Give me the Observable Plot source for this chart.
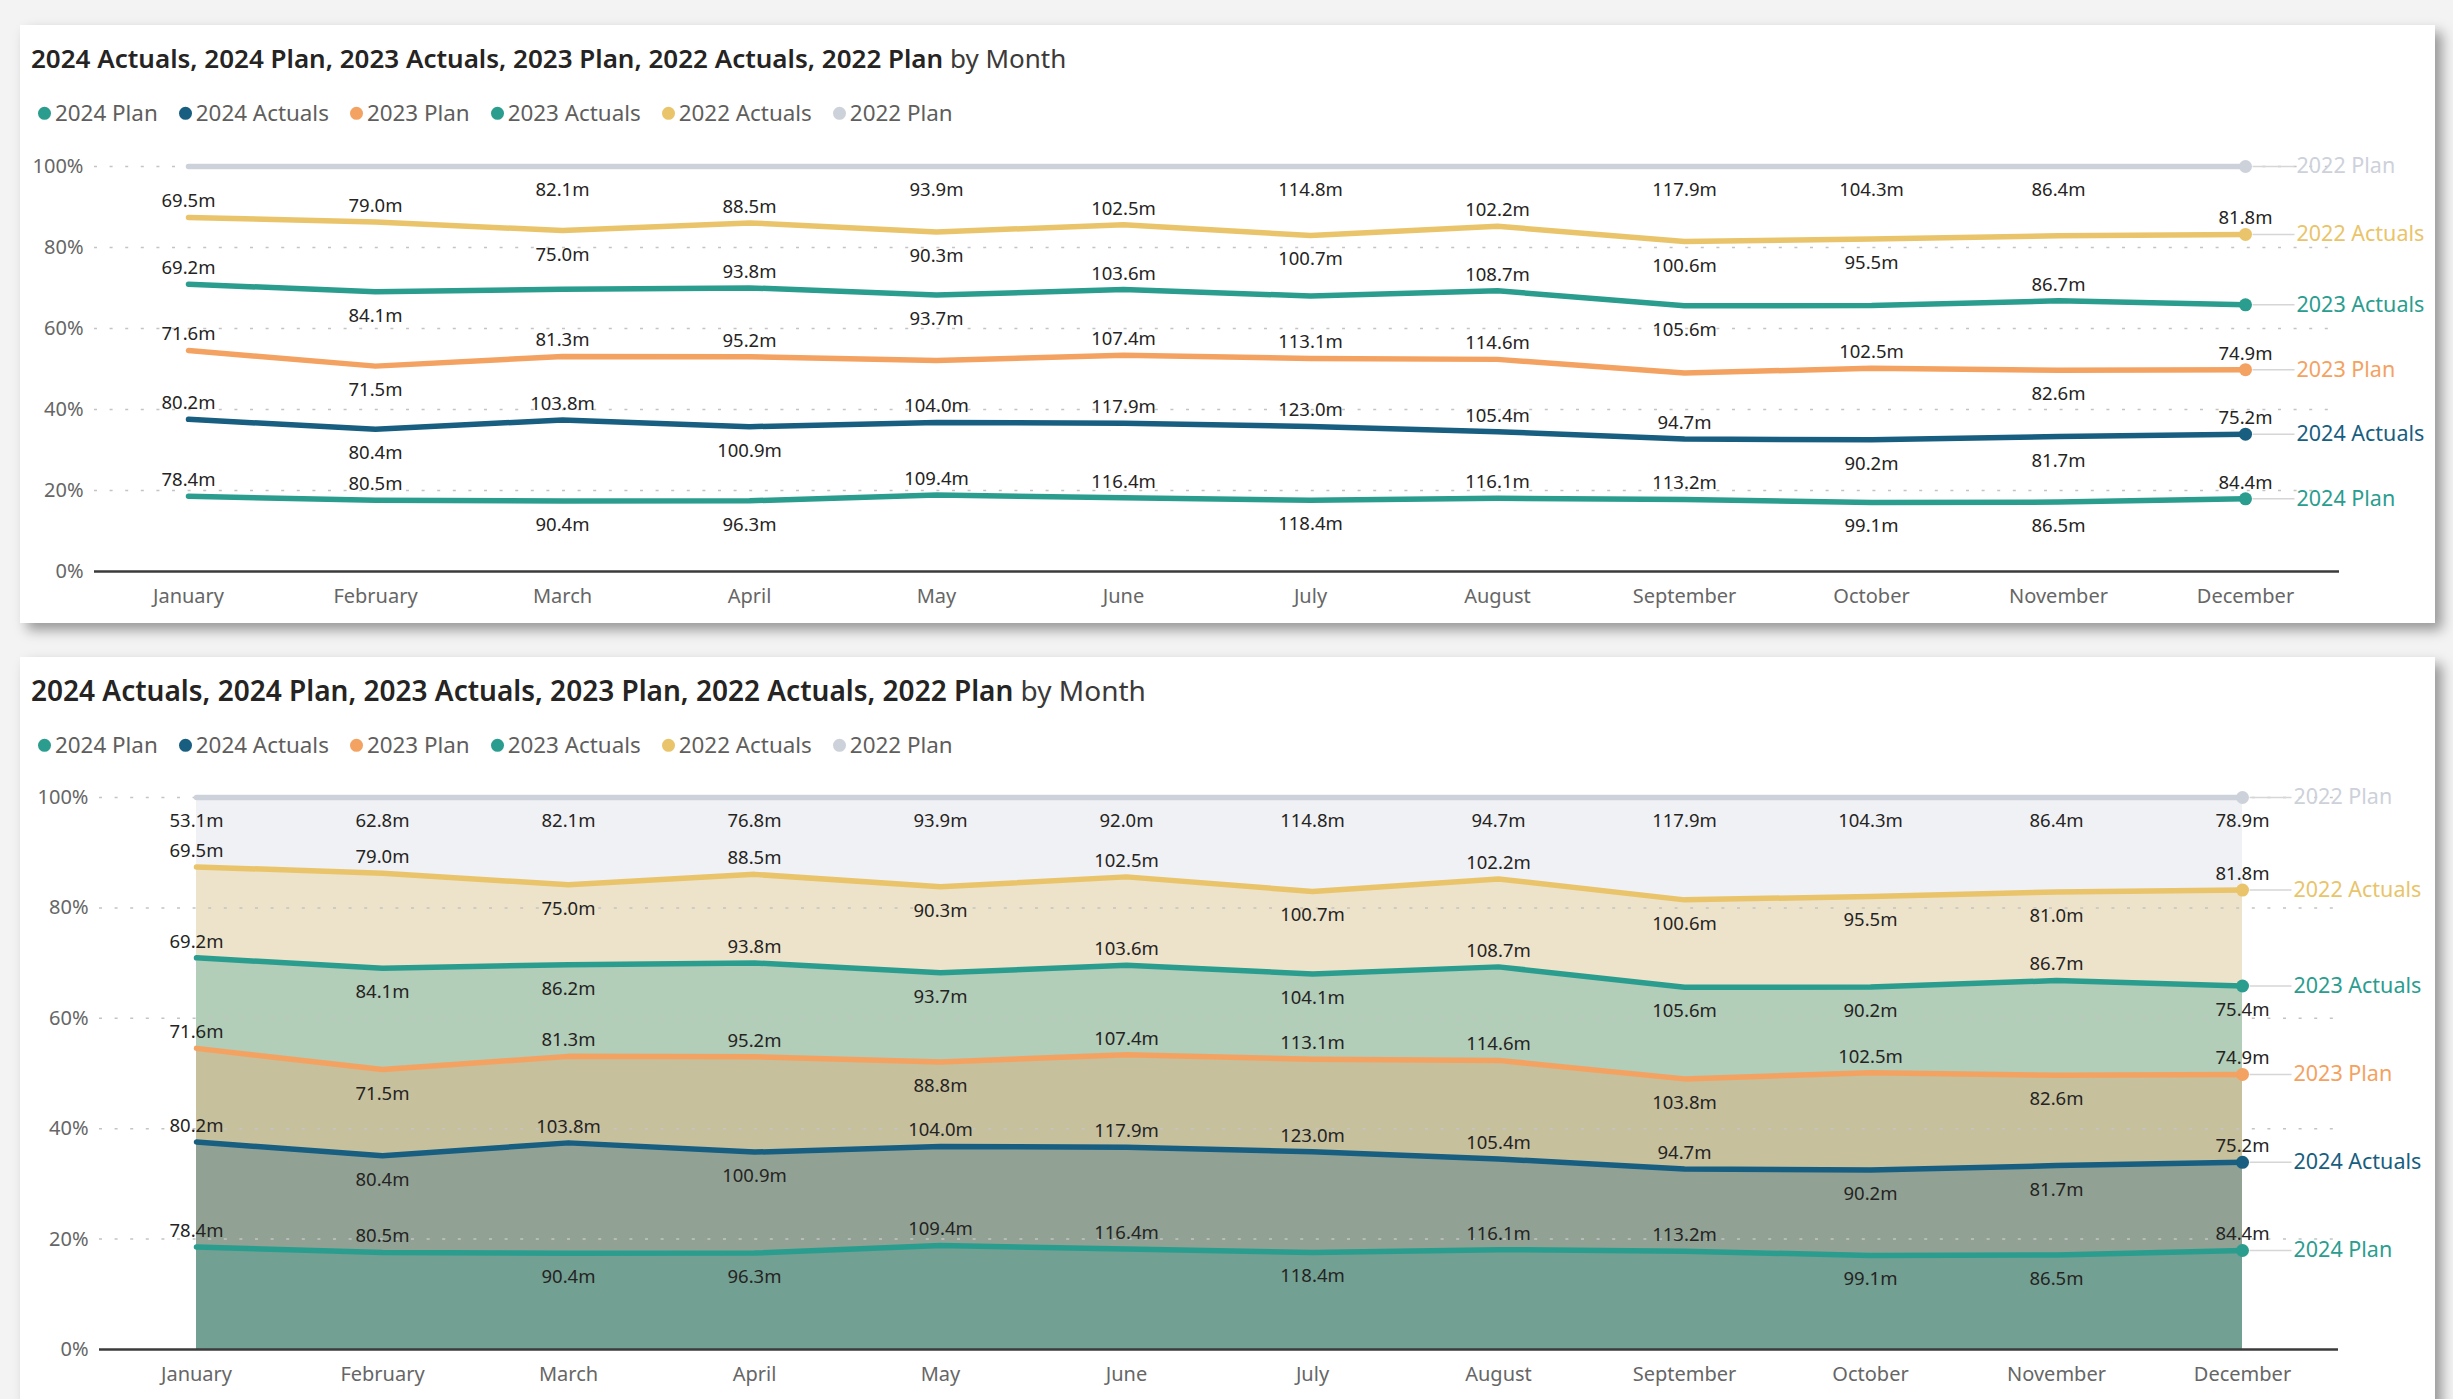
<!DOCTYPE html>
<html>
<head>
<meta charset="utf-8">
<script src="https://cdn.jsdelivr.net/npm/d3@7"></script>
<script src="https://cdn.jsdelivr.net/npm/@observablehq/plot@0.6"></script>
<style>
  html, body { margin: 0; padding: 0; }
  body { width: 2453px; height: 1399px; background: #f3f3f3; position: relative; overflow: hidden; font-family: "Noto Sans", sans-serif; }
  .card { position: absolute; left: 20px; width: 2415px; background: #fff; box-shadow: 7px 7px 12px rgba(0,0,0,0.38); }
  .title { position: absolute; left: 11px; color: #252423; white-space: nowrap; line-height: 1; transform: translateY(-50%); }
  .title b { font-weight: 600; }
  .title span { font-weight: 400; color: #3b3a39; }
  .legend { position: absolute; left: 18px; display: flex; align-items: center; font-size: 22.4px; color: #605e5c; white-space: nowrap; transform: translateY(-50%); line-height: 1; }
  .legend .item { display: flex; align-items: center; margin-right: 21px; }
  .legend .dot { width: 13px; height: 13px; border-radius: 50%; margin-right: 4px; }
  .plot { position: absolute; left: 0; }
</style>
</head>
<body>
<div class="card" id="card1" style="top:25px;height:598px;">
  <div class="title" style="top:33px;font-size:26px;"><b>2024 Actuals, 2024 Plan, 2023 Actuals, 2023 Plan, 2022 Actuals, 2022 Plan</b> <span>by Month</span></div>
  <div class="legend" id="legend1" style="top:88px;"></div>
  <div class="plot" id="plot1" style="top:101px;"></div>
</div>
<div class="card" id="card2" style="top:657px;height:780px;">
  <div class="title" style="top:33px;font-size:28px;"><b>2024 Actuals, 2024 Plan, 2023 Actuals, 2023 Plan, 2022 Actuals, 2022 Plan</b> <span>by Month</span></div>
  <div class="legend" id="legend2" style="top:88px;"></div>
  <div class="plot" id="plot2" style="top:100px;"></div>
</div>
<script>
// ---------- data ----------
const months = ["January","February","March","April","May","June","July","August","September","October","November","December"];
// stack order, bottom to top
const seriesNames = ["2024 Plan","2024 Actuals","2023 Plan","2023 Actuals","2022 Actuals","2022 Plan"];
const plan2024    = [78.4, 80.5, 90.4, 96.3, 109.4, 116.4, 118.4, 116.1, 113.2, 99.1, 86.5, 84.4];
const actuals2024 = [80.2, 80.4, 103.8, 100.9, 104.0, 117.9, 123.0, 105.4, 94.7, 90.2, 81.7, 75.2];
const plan2023    = [71.6, 71.5, 81.3, 95.2, 88.8, 107.4, 113.1, 114.6, 103.8, 102.5, 82.6, 74.9];
const actuals2023 = [69.2, 84.1, 86.2, 93.8, 93.7, 103.6, 104.1, 108.7, 105.6, 90.2, 86.7, 75.4];
const actuals2022 = [69.5, 79.0, 75.0, 88.5, 90.3, 102.5, 100.7, 102.2, 100.6, 95.5, 81.0, 81.8];
const plan2022    = [53.1, 62.8, 82.1, 76.8, 93.9, 92.0, 114.8, 94.7, 117.9, 104.3, 86.4, 78.9];
const seriesValues = [plan2024, actuals2024, plan2023, actuals2023, actuals2022, plan2022];
const seriesColors = ["#2a9d8f", "#175e80", "#f4a261", "#2a9d8f", "#e9c46a", "#cdd1da"];
const yTicks = [0, 0.2, 0.4, 0.6, 0.8, 1];

// ---------- derived table (100% stacked) ----------
const totals = months.map((m, i) => d3.sum(seriesValues, v => v[i]));
const rows = [];
const cum = months.map(() => 0);
seriesNames.forEach((name, k) => {
  months.forEach((m, i) => {
    cum[i] += seriesValues[k][i];
    rows.push({series: name, k, i, month: m, value: seriesValues[k][i], top: cum[i] / totals[i]});
  });
});
const topOf = (k, i) => rows[k * months.length + i].top;
// label side: below when the line rises (or stays level) towards the next point
rows.forEach(r => {
  const j = r.i < months.length - 1 ? r.i + 1 : r.i - 1;
  r.below = topOf(r.k, j) - r.top > -1e-9;
  r.label = r.value.toFixed(1) + "m";
});

const ABOVE_DY = -16, BELOW_DY = 24;

function visibleLabels(marginTop, innerH, minGap) {
  const kept = [];
  for (let k = 0; k < seriesNames.length; k++) {
    for (let i = 0; i < months.length; i++) {
      const r = rows[k * months.length + i];
      const c = marginTop + (1 - r.top) * innerH + (r.below ? BELOW_DY : ABOVE_DY);
      if (kept.every(o => o.i !== i || Math.abs(o.c - c) >= minGap)) kept.push({...r, c});
    }
  }
  return kept;
}

const leaderSymbol = { draw(ctx) { ctx.moveTo(7, 0); ctx.lineTo(49, 0); } };

function legend(id) {
  const el = document.getElementById(id);
  seriesNames.forEach((n, k) => {
    const it = document.createElement("div");
    it.className = "item";
    it.innerHTML = `<div class="dot" style="background:${seriesColors[k]}"></div><div>${n}</div>`;
    el.appendChild(it);
  });
}

function panel({height, marginTop, marginBottom, marginLeft, marginRight, areas}) {
  const width = 2415;
  const innerH = height - marginTop - marginBottom;
  const labels = visibleLabels(marginTop, innerH, 28.6);
  const dec = rows.filter(r => r.i === months.length - 1);
  const marks = [];
  if (areas) {
    for (let k = seriesNames.length - 1; k >= 0; k--) {
      marks.push(Plot.areaY(rows.filter(r => r.k === k), {x: "month", y1: 0, y2: "top", fill: "series", fillOpacity: 0.3}));
    }
  }
  marks.push(
    Plot.ruleY(yTicks.filter(t => t > 0), {stroke: "#c4c4c4", strokeWidth: 1.5, strokeDasharray: "3,12.6"}),
    Plot.axisY({ticks: yTicks, tickFormat: d3.format(".0%"), tickSize: 0, tickPadding: 11, fontSize: 20, fill: "#666", label: null}),
    Plot.axisX({tickSize: 0, tickPadding: 17, fontSize: 20, fill: "#666", label: null}),
    Plot.ruleY([0], {stroke: "#3b3b3b", strokeWidth: 2.5}),
    Plot.line(rows, {x: "month", y: "top", z: "series", stroke: "series", strokeWidth: 5.5, strokeLinejoin: "round"}),
    Plot.dot(dec, {x: "month", y: "top", symbol: leaderSymbol, r: 3, fill: "none", stroke: "#d6d6d6", strokeWidth: 1.5}),
    Plot.dot(dec, {x: "month", y: "top", fill: "series", r: 6.5}),
    Plot.text(dec, {x: "month", y: "top", text: "series", fill: "series", textAnchor: "start", dx: 51, fontSize: 21.5}),
    Plot.text(labels.filter(d => !d.below), {x: "month", y: "top", text: "label", dy: ABOVE_DY, fontSize: 18.5, fill: "#252423"}),
    Plot.text(labels.filter(d => d.below), {x: "month", y: "top", text: "label", dy: BELOW_DY, fontSize: 18.5, fill: "#252423"})
  );
  return Plot.plot({
    width, height, marginTop, marginBottom, marginLeft, marginRight,
    style: {fontFamily: "Noto Sans, sans-serif", background: "transparent", overflow: "visible"},
    x: {type: "point", domain: months, padding: 0.5},
    y: {domain: [0, 1]},
    color: {domain: seriesNames, range: seriesColors},
    marks
  });
}

legend("legend1");
legend("legend2");
document.getElementById("plot1").appendChild(panel({height: 497, marginTop: 40, marginBottom: 52, marginLeft: 74, marginRight: 96, areas: false}));
document.getElementById("plot2").appendChild(panel({height: 642, marginTop: 40, marginBottom: 50, marginLeft: 79, marginRight: 97, areas: true}));
</script>
</body>
</html>
